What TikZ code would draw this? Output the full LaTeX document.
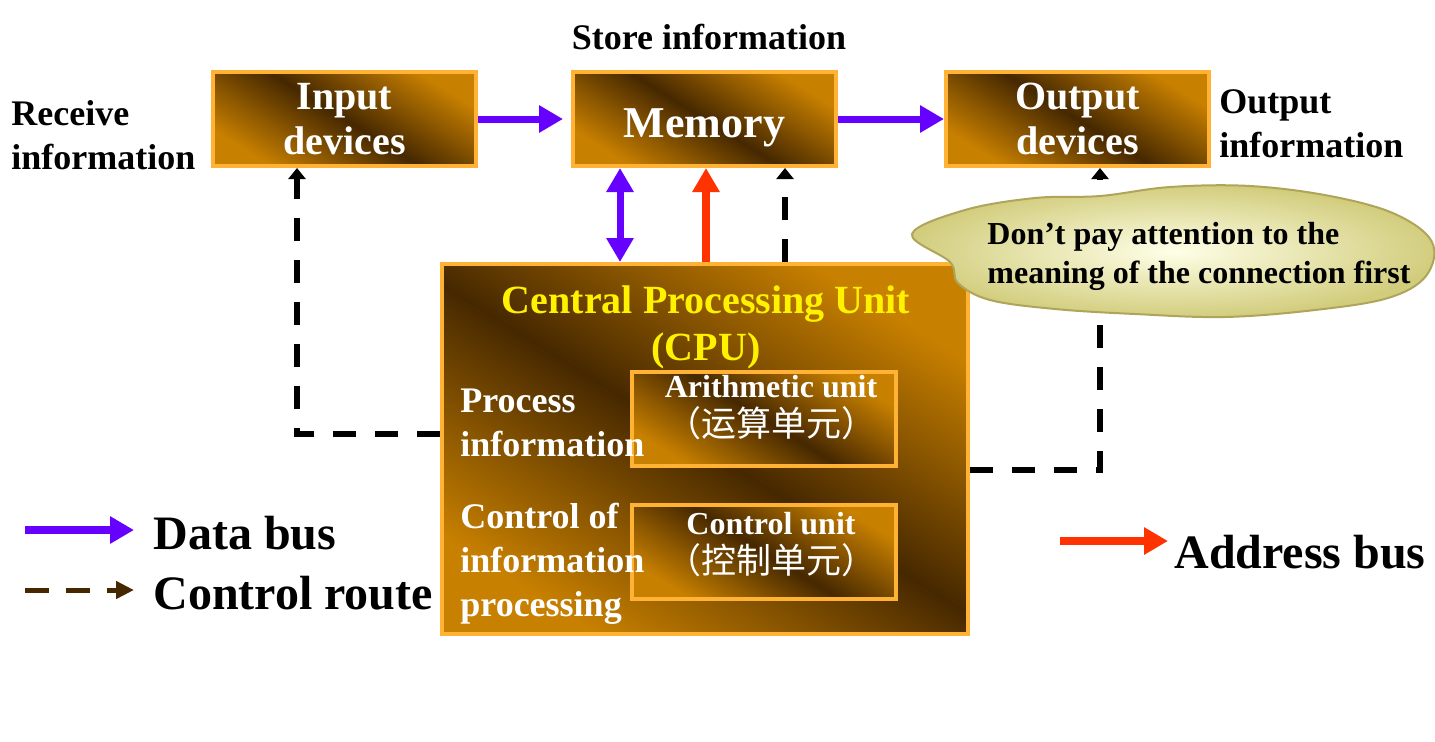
\documentclass[tikz,border=0pt]{standalone}
\usepackage{fontspec}
\setmainfont{Liberation Serif}
\newfontfamily\cjk{Noto Sans CJK SC}
\usetikzlibrary{arrows.meta,positioning,calc}

\definecolor{boxorange}{RGB}{200,128,0}
\definecolor{boxdark}{RGB}{70,40,0}
\definecolor{boxrim}{RGB}{255,178,52}
\definecolor{datapurple}{RGB}{102,0,255}
\definecolor{addrred}{RGB}{255,51,0}
\definecolor{routebrown}{RGB}{70,40,0}
\definecolor{cloudin}{RGB}{255,255,232}
\definecolor{cloudout}{RGB}{210,205,125}
\definecolor{cloudrim}{RGB}{175,165,90}

\tikzset{
  unitbox/.style={draw=boxrim, line width=2pt, top color=boxorange, bottom color=boxorange,
    middle color=boxdark, shading angle=-32, inner sep=0pt},
  devbox/.style={unitbox, minimum width=131.5pt, minimum height=47pt, text=white,
    font=\bfseries\fontsize{20}{22.5}\selectfont, align=center},
  infotext/.style={font=\bfseries\fontsize{18}{22}\selectfont, inner sep=0pt, align=left},
  cputext/.style={infotext, text=white},
  unittext/.style={font=\bfseries\fontsize{16}{19.5}\selectfont, text=white, align=center, inner sep=0pt},
  legendtext/.style={font=\bfseries\fontsize{24}{28}\selectfont, inner sep=0pt, anchor=west},
  databus/.style={draw=datapurple, line width=3.5pt, -{Triangle[width=13pt,length=12pt]}},
  addrbus/.style={draw=addrred, line width=4pt, -{Triangle[width=13pt,length=12pt]}},
  ctrlroute/.style={draw=black, line width=3pt, dash pattern=on 11.5pt off 9.5pt,
    -{Triangle[width=8.5pt,length=5.5pt]}},
}

\begin{document}
\begin{tikzpicture}[x=0.5pt,y=-0.5pt]
\useasboundingbox (0,0) rectangle (1435,741);

% top row
\node[devbox] (input) at (344.5,119) {Input\\devices};
\node[devbox, font=\bfseries\fontsize{22}{24}\selectfont, text height=18pt, text depth=0pt] (memory) at (704.5,119) {Memory};
\node[devbox] (output) at (1077.5,119) {Output\\devices};

\node[infotext] (store) at (709,37) {Store information};
\node[infotext, anchor=west] (recv) at (11,135) {Receive\\information};
\node[infotext, anchor=west] (outinfo) at (1219,124) {Output\\information};

% cpu
\node[unitbox, minimum width=263pt, minimum height=185pt] (cpu) at (705,449) {};
\node[unitbox, minimum width=132pt, minimum height=47pt] (arith) at (764,419) {};
\node[unitbox, minimum width=132pt, minimum height=47pt] (ctrl) at (764,551.5) {};

\node[infotext, text=yellow, align=center, font=\bfseries\fontsize{20}{23.5}\selectfont] (cputitle) at (706,327) {Central Processing Unit\\(CPU)};
\node[cputext, anchor=west] (proc) at (460,423) {Process\\information};
\node[cputext, anchor=west] (ctrlof) at (460,564) {Control of\\information\\processing};
\node[unittext] (arithtxt) at (771,408) {Arithmetic unit\\{\cjk\mdseries\fontsize{17.5}{19.5}\selectfont （运算单元）}};
\node[unittext] (ctrltxt) at (771,545) {Control unit\\{\cjk\mdseries\fontsize{17.5}{19.5}\selectfont （控制单元）}};

% buses
\coordinate (dbx) at (620,0);
\coordinate (abx) at (706,0);
\coordinate (crx) at (785,0);
\coordinate (crl) at (297,434);
\coordinate (crr) at (1100,470);

\draw[databus, shorten >=4pt] (input.east) -- (memory.west);
\draw[databus] (memory.east) -- (output.west);
\draw[databus, {Triangle[width=13pt,length=12pt]}-{Triangle[width=13pt,length=12pt]}] (memory.south -| dbx) -- (cpu.north -| dbx);
\draw[addrbus] (cpu.north -| abx) -- (memory.south -| abx);
\draw[ctrlroute] (cpu.north -| crx) -- (memory.south -| crx);
\draw[ctrlroute] (cpu.west |- crl) -| (input.south -| crl);
\draw[ctrlroute] (cpu.east |- crr) -| (output.south -| crr);

% cloud note
\shade[inner color=cloudin, outer color=cloudout, draw=cloudrim, line width=1pt]
  plot[smooth cycle, tension=0.6] coordinates {(912,234) (965,210) (1035,198) (1100,196) (1170,187)
    (1250,186) (1330,196) (1395,214) (1432,242) (1426,276) (1388,298) (1315,310) (1225,317)
    (1135,314) (1055,309) (990,300) (958,283) (950,262)};
\node[unittext, text=black, align=left, anchor=west] (note) at (987,256) {Don’t pay attention to the\\meaning of the connection first};

% legend
\coordinate (lgdata) at (25,530);
\coordinate (lgdataend) at (134,530);
\coordinate (lgroute) at (25,590);
\coordinate (lgrouteend) at (134,590);
\coordinate (lgaddr) at (1060,541);
\coordinate (lgaddrend) at (1168,541);
\draw[databus, line width=4pt] (lgdata) -- (lgdataend);
\draw[draw=routebrown, line width=2.5pt, dash pattern=on 12pt off 8.5pt,
  -{Triangle[width=8.5pt,length=9pt]}] (lgroute) -- (lgrouteend);
\draw[addrbus] (lgaddr) -- (lgaddrend);
\node[legendtext] (datalbl) at (153,533) {Data bus};
\node[legendtext] (routelbl) at (153,593) {Control route};
\node[legendtext] (addrlbl) at (1174,552) {Address bus};
\end{tikzpicture}
\end{document}
